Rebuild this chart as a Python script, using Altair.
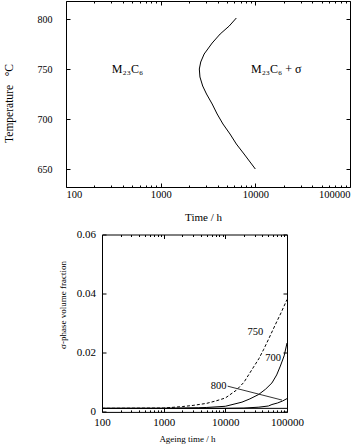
import altair as alt
import pandas as pd

FONT = "Liberation Serif"

# ---------------- top panel: onset of sigma phase ----------------
boundary_temp = [801, 793, 785, 776, 765, 757, 750, 742, 733, 725, 715, 705, 695, 685, 675, 665, 650]
boundary_time = [6300, 5300, 4250, 3500, 2880, 2650, 2560, 2600, 2780, 3050, 3500, 3950, 4550, 5400, 6300, 7600, 10000]
region_labels = ["M₂₃C₆", "M₂₃C₆ + σ"]
region_time = [305, 9000]
region_temp = [750, 750]

time_major = [100, 1000, 10000, 100000]
time_minor = [200, 300, 400, 500, 600, 700, 800, 900,
              2000, 3000, 4000, 5000, 6000, 7000, 8000, 9000,
              20000, 30000, 40000, 50000, 60000, 70000, 80000, 90000]
temp_ticks = [650, 700, 750, 800]
frac_ticks = [0, 0.02, 0.04, 0.06]

# ---------------- bottom panel: sigma volume fraction ----------------
t750 = [100, 1000, 2000, 3000, 5000, 7000, 10000, 15000, 20000, 27000, 35000, 42000, 50000, 65000, 80000, 100000]
v750 = [0.0012, 0.0013, 0.0018, 0.0022, 0.0029, 0.0037, 0.0047, 0.0073, 0.0100, 0.0143, 0.0180, 0.0212, 0.0245, 0.0296, 0.0335, 0.0380]
t700 = [100, 1000, 3700, 5000, 10000, 18600, 25000, 34800, 45000, 57000, 68000, 78000, 90000, 100000]
v700 = [0.0012, 0.0012, 0.0014, 0.0015, 0.0019, 0.0033, 0.0044, 0.0059, 0.0077, 0.0098, 0.0125, 0.0155, 0.0190, 0.0233]
t800 = [100, 10000, 20000, 35000, 50000, 57000, 70000, 85000, 100000]
v800 = [0.0012, 0.0012, 0.0013, 0.0016, 0.0020, 0.0025, 0.0030, 0.0037, 0.0045]
t_base = [100, 100000]
v_base = [0.0012, 0.0012]
leader_t = [10900, 83000]
leader_v = [0.0087, 0.0040]
curve_labels = ["750", "700", "800"]
label_t = [30700, 59700, 7800]
label_v = [0.0271, 0.0183, 0.0089]


def inward(size):
    return {"expr": str(-size)}


def tick_axis(orient, values, size, **kw):
    opts = dict(orient=orient, values=values, tickSize=inward(size), labels=False,
                domain=False, title=None, grid=False)
    opts.update(kw)
    return alt.Axis(**opts)


# ---------- top chart ----------
W1, H1 = 284, 186
xs_top = alt.Scale(type="log", domain=[100, 100000])
ys_top = alt.Scale(domain=[632, 818])

top_df = pd.DataFrame({"time": boundary_time, "temp": boundary_temp,
                       "i": list(range(len(boundary_time)))})
region_df = pd.DataFrame({"time": region_time, "temp": region_temp, "label": region_labels})

top_curve = alt.Chart(top_df).mark_line(color="black", strokeWidth=1).encode(
    x=alt.X("time:Q", scale=xs_top,
            axis=tick_axis("bottom", time_major, 4, labels=True, domain=True, format="d",
                           labelFlush=True, labelPadding=6.6, labelFontSize=10.5,
                           title="Time / h", titleFontSize=11, titleX=137, titleY=24,
                           titleBaseline="top")),
    y=alt.Y("temp:Q", scale=ys_top,
            axis=tick_axis("left", temp_ticks, 4, labels=True, domain=True,
                           labelPadding=18, labelFontSize=10,
                           title="Temperature\u00a0\u00a0\u00a0°C", titleFontSize=11.5,
                           titleX=-52, titleY=102, titleAngle=270, titleBaseline="bottom",
                           titleAlign="center")),
    order=alt.Order("i:Q"),
)

top_text = alt.Chart(region_df).mark_text(font=FONT, fontSize=12, align="left",
                                          baseline="middle", color="black").encode(
    x=alt.X("time:Q", scale=xs_top, axis=tick_axis("bottom", time_minor, 2)),
    y=alt.Y("temp:Q", scale=ys_top, axis=tick_axis("right", temp_ticks, 4, domain=True)),
    text="label:N",
)

top_d1 = alt.Chart(top_df).mark_line(opacity=0).encode(
    x=alt.X("time:Q", scale=xs_top, axis=tick_axis("top", time_major, 4, domain=True)),
    y=alt.Y("temp:Q", scale=ys_top, axis=None),
    order=alt.Order("i:Q"),
)
top_d2 = alt.Chart(top_df).mark_line(opacity=0).encode(
    x=alt.X("time:Q", scale=xs_top, axis=tick_axis("top", time_minor, 2)),
    y=alt.Y("temp:Q", scale=ys_top, axis=None),
    order=alt.Order("i:Q"),
)

top = alt.layer(top_curve, top_text, top_d1, top_d2).resolve_axis(
    x="independent", y="independent").properties(width=W1, height=H1)

# ---------- bottom chart ----------
W2, H2 = 221, 177.4
xs_bot = alt.Scale(type="log", domain=[100, 100000], range=[36, 221])
ys_bot = alt.Scale(domain=[0, 0.06])

d750 = pd.DataFrame({"t": t750, "v": v750})
d700 = pd.DataFrame({"t": t700, "v": v700})
d800 = pd.DataFrame({"t": t800, "v": v800})
dbase = pd.DataFrame({"t": t_base, "v": v_base})
dlead = pd.DataFrame({"t": leader_t, "v": leader_v})
dlab = pd.DataFrame({"t": label_t, "v": label_v, "label": curve_labels})

c750 = alt.Chart(d750).mark_line(color="black", strokeWidth=1, strokeDash=[3, 2]).encode(
    x=alt.X("t:Q", scale=xs_bot,
            axis=tick_axis("bottom", time_major, 4, labels=True, domain=True, format="d",
                           labelFlush=False, labelPadding=8.6, labelFontSize=11,
                           title="Ageing time / h", titleFontSize=9, titleX=121, titleY=23,
                           titleBaseline="top")),
    y=alt.Y("v:Q", scale=ys_bot,
            axis=tick_axis("left", frac_ticks, 4, labels=True, domain=True, offset=-36,
                           format="~g", labelPadding=10.6, labelFontSize=11,
                           title="σ-phase volume fraction", titleFontSize=9, titleX=-35,
                           titleY=70, titleAngle=270, titleBaseline="bottom",
                           titleAlign="center")),
)
c700 = alt.Chart(d700).mark_line(color="black", strokeWidth=1).encode(
    x=alt.X("t:Q", scale=xs_bot, axis=tick_axis("bottom", time_minor, 2)),
    y=alt.Y("v:Q", scale=ys_bot, axis=tick_axis("right", frac_ticks, 4, domain=True)),
)
c800 = alt.Chart(d800).mark_line(color="black", strokeWidth=1).encode(
    x=alt.X("t:Q", scale=xs_bot, axis=tick_axis("top", time_major, 4, domain=True)),
    y=alt.Y("v:Q", scale=ys_bot, axis=None),
)
cbase = alt.Chart(dbase).mark_line(color="black", strokeWidth=1).encode(
    x=alt.X("t:Q", scale=xs_bot, axis=tick_axis("top", time_minor, 2)),
    y=alt.Y("v:Q", scale=ys_bot, axis=None),
)
clead = alt.Chart(dlead).mark_line(color="black", strokeWidth=0.8).encode(
    x=alt.X("t:Q", scale=xs_bot, axis=None),
    y=alt.Y("v:Q", scale=ys_bot, axis=None),
)
clab = alt.Chart(dlab).mark_text(font=FONT, fontSize=10.5, align="center",
                                 baseline="middle", color="black").encode(
    x=alt.X("t:Q", scale=xs_bot, axis=None),
    y=alt.Y("v:Q", scale=ys_bot, axis=None),
    text="label:N",
)

bottom = alt.layer(c750, c700, c800, cbase, clead, clab).resolve_axis(
    x="independent", y="independent").properties(width=W2, height=H2)

chart = alt.vconcat(top, bottom, spacing=6.5).properties(
    padding={"left": 3, "top": 0, "right": 0, "bottom": 0}
).configure_view(stroke=None).configure_axis(
    labelFont=FONT, titleFont=FONT, labelColor="black", titleColor="black",
    domainColor="black", tickColor="black", titleFontWeight="normal",
    domainWidth=1, tickWidth=1, labelOverlap=False, grid=False,
)

chart.save("out.html", embed_options={"renderer": "svg", "actions": False})
